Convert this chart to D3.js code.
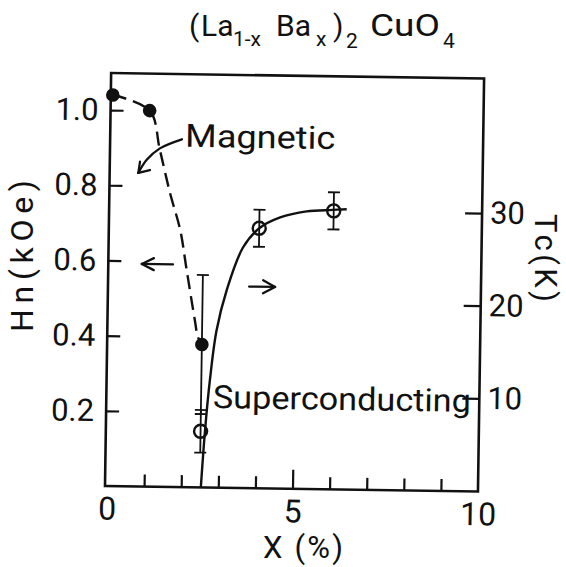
<!DOCTYPE html>
<html>
<head>
<meta charset="utf-8">
<script src="https://cdn.jsdelivr.net/npm/d3@7"></script>
<style>
  body { margin: 0; background: #fff; }
  svg { display: block; }
</style>
</head>
<body>
<svg id="chart" width="566" height="567"></svg>
<script>
// Ba content x (%) and critical field of the magnetic phase (kOe)
const magX   = [0, 1.0, 2.5];
const magHn  = [1.04, 1.0, 0.38];
const magErr = [0, 0, 0.185];

// Ba content x (%) and superconducting transition temperature (K)
const scX   = [2.5, 4.0, 6.0];
const scTc  = [6.0, 28.0, 30.0];
const scErr = [2.3, 2.0, 2.0];

// hand-drawn guide curves through the two data sets
const magCurveX  = [0, 1.0, 1.29, 1.58, 1.87, 2.06, 2.30, 2.39, 2.5];
const magCurveHn = [1.04, 1.0, 0.896, 0.782, 0.684, 0.578, 0.445, 0.40, 0.38];
const scCurveX   = [2.53, 2.62, 2.73, 2.89, 3.15, 3.57, 4.0, 4.56, 5.27, 5.97, 6.35];
const scCurveTc  = [0, 6.1, 11.5, 16.9, 21.3, 25.9, 28.0, 29.2, 29.9, 30.1, 30.2];

// axis ticks
const xMinorTicks = [1, 2, 3, 4, 6, 7, 8, 9];
const xMajorTicks = [5];
const xTickLabels = [0, 5, 10];
const hnTicks = [0.2, 0.4, 0.6, 0.8, 1.0];
const tcTicks = [10, 20, 30];

const FONT = "Roboto, 'DejaVu Sans', sans-serif";
const INK = "#111";

const svg = d3.select("#chart");

// plot frame (the whole panel sits slightly turned)
const L = 105, B = 486, W = 373, H = 413;
const x   = d3.scaleLinear().domain([0, 10]).range([107, L + W]);
const yHn = d3.scaleLinear().domain([0, 1]).range([B, 110]);
const yTc = d3.scaleLinear().domain([0, 30]).range([485.5, 207.5]);

const plot = svg.append("g").attr("transform", `rotate(0.85,${L},${B})`);

plot.append("rect")
  .attr("x", L).attr("y", B - H).attr("width", W).attr("height", H)
  .attr("fill", "none").attr("stroke", INK).attr("stroke-width", 2.6);

function styleAxis(g, size) {
  g.select(".domain").remove();
  g.selectAll(".tick line").attr("stroke", INK).attr("stroke-width", 2.2);
  g.selectAll(".tick text").attr("fill", INK);
  g.attr("font-family", FONT).attr("font-size", size);
}

// bottom axis: inward ticks, longer at 5
plot.append("g").attr("transform", `translate(0,${B})`)
  .call(d3.axisBottom(x).tickValues(xMinorTicks).tickSize(-12).tickFormat(""))
  .call(g => styleAxis(g, 31));
plot.append("g").attr("transform", `translate(0,${B})`)
  .call(d3.axisBottom(x).tickValues(xMajorTicks).tickSize(-19).tickFormat(""))
  .call(g => styleAxis(g, 31));
plot.append("g").attr("transform", `translate(0,${B})`)
  .call(d3.axisBottom(x).tickValues(xTickLabels).tickSize(0).tickPadding(11).tickFormat(d3.format("d")))
  .call(g => styleAxis(g, 32));

// left axis: Hn
plot.append("g").attr("transform", `translate(${L},0)`)
  .call(d3.axisLeft(yHn).tickValues(hnTicks).tickSize(-13).tickPadding(12).tickFormat(d3.format(".1f")))
  .call(g => styleAxis(g, 31));

// right axis: Tc
plot.append("g").attr("transform", `translate(${L + W},0)`)
  .call(d3.axisRight(yTc).tickValues(tcTicks).tickSize(-17).tickPadding(8).tickFormat(d3.format("d")))
  .call(g => styleAxis(g, 31));

// guide curves
const smooth = d3.line().curve(d3.curveCatmullRom.alpha(0.5));
plot.append("path")
  .attr("d", smooth(magCurveX.map((v, i) => [x(v), yHn(magCurveHn[i])])))
  .attr("fill", "none").attr("stroke", INK).attr("stroke-width", 2.4)
  .attr("stroke-dasharray", "14,7");
plot.append("path")
  .attr("d", smooth(scCurveX.map((v, i) => [x(v), yTc(scCurveTc[i])])))
  .attr("fill", "none").attr("stroke", INK).attr("stroke-width", 2.4);

// error bars
function errorBar(cx, lo, hi) {
  const g = plot.append("g").attr("stroke", INK).attr("stroke-width", 1.8);
  g.append("line").attr("x1", cx).attr("x2", cx).attr("y1", lo).attr("y2", hi);
  [lo, hi].forEach(yy => g.append("line")
    .attr("x1", cx - 6).attr("x2", cx + 6).attr("y1", yy).attr("y2", yy));
}
magX.forEach((v, i) => {
  if (magErr[i] > 0) errorBar(x(v), yHn(magHn[i] - magErr[i]), yHn(magHn[i] + magErr[i]));
});
scX.forEach((v, i) => errorBar(x(v), yTc(scTc[i] - scErr[i]), yTc(scTc[i] + scErr[i])));

// markers
plot.selectAll("circle.mag").data(magX).join("circle")
  .attr("class", "mag")
  .attr("cx", d => x(d)).attr("cy", (d, i) => yHn(magHn[i])).attr("r", 6.8)
  .attr("fill", INK);
plot.selectAll("circle.sc").data(scX).join("circle")
  .attr("class", "sc")
  .attr("cx", d => x(d)).attr("cy", (d, i) => yTc(scTc[i])).attr("r", 6.5)
  .attr("fill", "none").attr("stroke", INK).attr("stroke-width", 2.4);

// arrows showing which axis each set belongs to
function arrow(pts, barbs) {
  const g = plot.append("g").attr("fill", "none").attr("stroke", INK)
    .attr("stroke-width", 2.3).attr("stroke-linecap", "round");
  g.append("path").attr("d", smooth(pts));
  barbs.forEach(b => g.append("path").attr("d", d3.line()([pts[pts.length - 1], b])));
}
{
  const tip = [x(0.85), yHn(0.592)];
  arrow([[x(1.69), yHn(0.592)], tip], [[tip[0] + 12, tip[1] - 6], [tip[0] + 12, tip[1] + 6]]);
}
{
  const tip = [x(4.45), yTc(21.7)];
  arrow([[x(3.75), yTc(21.7)], tip], [[tip[0] - 12, tip[1] - 6.5], [tip[0] - 12, tip[1] + 6.5]]);
}
arrow(
  [[x(1.88), yHn(0.925)], [x(1.29), yHn(0.90)], [x(0.94), yHn(0.869)], [x(0.72), yHn(0.834)]],
  [[x(0.76), yHn(0.864)], [x(1.03), yHn(0.842)]]
);

// phase labels
plot.append("text")
  .attr("x", x(1.97)).attr("y", yHn(0.905))
  .attr("font-family", FONT).attr("font-size", 32).attr("fill", INK)
  .attr("textLength", 150).attr("lengthAdjust", "spacingAndGlyphs")
  .text("Magnetic");
plot.append("text")
  .attr("x", x(2.82)).attr("y", yTc(8.53))
  .attr("font-family", FONT).attr("font-size", 32).attr("fill", INK)
  .attr("textLength", 258).attr("lengthAdjust", "spacingAndGlyphs")
  .text("Superconducting");

// axis titles
svg.append("text")
  .attr("transform", "translate(33,256) rotate(-90)")
  .attr("text-anchor", "middle")
  .attr("font-family", FONT).attr("font-size", 32).attr("fill", INK)
  .attr("textLength", 152).attr("lengthAdjust", "spacing")
  .text("Hn(kOe)");
svg.append("text")
  .attr("transform", "translate(535,258) rotate(90)")
  .attr("text-anchor", "middle")
  .attr("font-family", FONT).attr("font-size", 31).attr("fill", INK)
  .attr("textLength", 88).attr("lengthAdjust", "spacing")
  .text("Tc(K)");
svg.append("text")
  .attr("x", 303).attr("y", 558)
  .attr("text-anchor", "middle")
  .attr("font-family", FONT).attr("font-size", 31).attr("fill", INK)
  .attr("textLength", 80).attr("lengthAdjust", "spacing")
  .text("X (%)");

// compound formula
const title = svg.append("text")
  .attr("font-family", FONT).attr("fill", INK);
const parts = [
  { t: "(",   x: 189, y: 36, s: 30 },
  { t: "La",  x: 201, y: 36, s: 30 },
  { t: "1-x", x: 233, y: 46, s: 21 },
  { t: "Ba",  x: 276, y: 36, s: 30 },
  { t: "x",   x: 316, y: 46, s: 21 },
  { t: ")",   x: 333, y: 36, s: 30 },
  { t: "2",   x: 346, y: 48, s: 21 },
  { t: "CuO", x: 370, y: 36, s: 31, len: 70 },
  { t: "4",   x: 443, y: 48, s: 21 }
];
parts.forEach(p => {
  const ts = title.append("tspan")
    .attr("x", p.x).attr("y", p.y).attr("font-size", p.s).text(p.t);
  if (p.len) ts.attr("textLength", p.len).attr("lengthAdjust", "spacingAndGlyphs");
});
</script>
</body>
</html>
